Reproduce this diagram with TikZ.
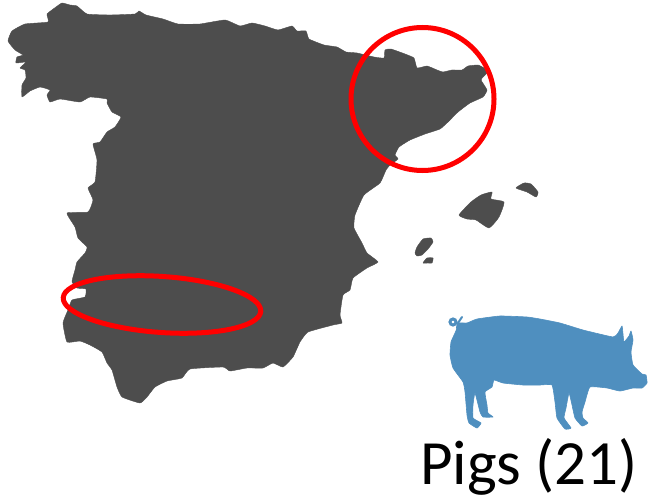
\documentclass[tikz,border=0pt]{standalone}
\usepackage{fontspec}
\setmainfont{Carlito}
\definecolor{mapgrey}{HTML}{4D4D4D}
\definecolor{pigblue}{HTML}{4F8FBF}
\tikzset{
  land/.style={fill=mapgrey,draw=mapgrey,line width=0.4bp,line join=round},
  pigshape/.style={fill=pigblue,draw=pigblue,line width=0.6bp,line join=round},
  ring/.style={draw=red,line width=5bp},
}
\begin{document}
\begin{tikzpicture}[x=1bp,y=-1bp]
\useasboundingbox (0,0) rectangle (648,500);
% mainland
\fill[land] plot[smooth cycle,tension=0.25] coordinates {
(8,41)(12,31)(25,24)(48,22)(47,14)(56,7)(62,3)(70,5)(77,6)(87,14)(110,15)(135,14)(139,11)(146,15)(163,19)(178,24)(200,24)(225,20)(240,26)(252,23)(265,26)(278,30)(292,26)(297,31)(306,31)(309,39)(324,45)(337,47)(346,52)(357,53)(374,57)(384,58)(385,50)(391,49)(405,54)(414,58)(417,68)(427,66)(437,70)(443,72)(452,70)(462,70)(468,66)(478,65)(484,68)(488,72)(484,76)(481,80)(487,90)(483,97)(470,103)(458,112)(448,122)(440,129)(425,134)(410,140)(399,147)(395,155)(398,159)(390,165)(386,170)(380,183)(364,195)(355,215)(354,228)(362,243)(367,253)(378,262)(367,268)(353,278)(350,290)(343,295)(340,315)(342,323)(333,325)(308,332)(300,342)(293,357)(283,367)(273,363)(263,368)(247,368)(230,371)(223,367)(190,369)(182,378)(167,381)(155,387)(147,397)(140,403)(122,397)(117,387)(112,370)(107,363)(102,352)(90,345)(80,341)(67,342)(63,323)(68,310)(72,300)(85,297)(86,289)(77,288)(72,282)(73,277)(75,270)(77,262)(85,253)(87,247)(78,238)(75,227)(67,213)(88,212)(93,200)(88,188)(95,182)(97,160)(93,144)(100,142)(107,132)(115,127)(121,117)(112,112)(107,103)(107,99)(90,97)(80,102)(60,99)(50,102)(47,95)(50,90)(40,87)(30,91)(22,97)(22,85)(26,78)(25,70)(20,68)(26,62)(16,63)(17,57)(23,55)(15,50)};
% islands
\fill[land] plot[smooth cycle,tension=0.3] coordinates {(459,215)(471,202)(481,195)(492,192)(491,199)(504,202)(499,217)(489,228)(476,220)(467,219)};
\fill[land] plot[smooth cycle,tension=0.3] coordinates {(516,188)(524,183)(531,184)(538,192)(536,197)(527,192)};
\fill[land] plot[smooth cycle,tension=0.3] coordinates {(415,253)(417,247)(423,239)(431,238)(433,242)(428,249)(422,255)(417,256)};
\fill[land] plot[smooth cycle,tension=0.3] coordinates {(423,263)(427,258)(433,258)(432,263)(428,263)};
% rings
\draw[ring] (422.5,99) circle[radius=71.5bp];
\draw[ring] (162,304.5) circle[x radius=99bp,y radius=28bp,rotate=-4];
% pig
\fill[pigshape] plot[smooth cycle,tension=0.25] coordinates {
(457,328)(458,323)(467,323)(477,319)(500,316)(527,317)(540,319)(560,323)(583,330)(613,337)(618,333)(622,326)(623,334)(624,342)(629,336)(631,331)(633,340)(631,352)(633,365)(642,374)(646,375)(647,383)(642,388)(633,388)(620,391)(607,388)(590,387)(585,402)(582,412)(583,418)(588,423)(582,426)(575,418)(572,405)(569,393)(566,408)(564,418)(571,428)(565,429)(557,418)(555,402)(552,385)(540,385)(523,385)(503,383)(494,380)(492,387)(485,392)(487,405)(488,413)(493,417)(483,417)(480,412)(475,393)(473,405)(473,418)(481,423)(477,428)(469,423)(467,415)(465,392)(463,382)(453,368)(450,355)(451,342)(455,333)};
% tail
\draw[pigblue,line width=3bp] (453,322) circle[radius=3bp];
\draw[pigblue,line width=2bp,line cap=round] (457,328) -- (458,323) -- (462,317);
\node[anchor=base west,inner sep=0pt,font=\fontsize{63bp}{63bp}\selectfont,text=black] (label) at (420,484.5) {Pigs (21)};
\end{tikzpicture}
\end{document}
